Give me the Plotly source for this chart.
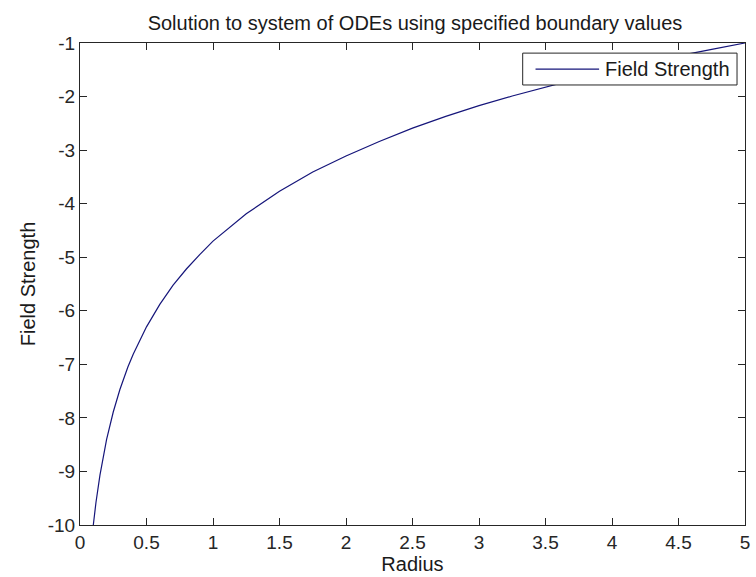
import plotly.graph_objects as go

radius = [0.1, 0.12, 0.15, 0.2, 0.25, 0.3, 0.36, 0.4, 0.5, 0.6, 0.7, 0.8, 0.9, 1.0,
          1.25, 1.5, 1.75, 2.0, 2.25, 2.5, 2.75, 3.0, 3.25, 3.5, 3.75, 4.0, 4.25, 4.5, 4.75, 5.0]
field = [-10.0, -9.58, -9.07, -8.40, -7.89, -7.47, -7.05, -6.81, -6.30, -5.88, -5.52, -5.22,
         -4.95, -4.70, -4.19, -3.77, -3.41, -3.11, -2.84, -2.59, -2.37, -2.17, -1.99, -1.82,
         -1.66, -1.51, -1.37, -1.24, -1.12, -1.00]

x_ticks = [0, 0.5, 1, 1.5, 2, 2.5, 3, 3.5, 4, 4.5, 5]
x_labels = ["0", "0.5", "1", "1.5", "2", "2.5", "3", "3.5", "4", "4.5", "5"]
y_ticks = [-10, -9, -8, -7, -6, -5, -4, -3, -2, -1]
y_labels = ["-10", "-9", "-8", "-7", "-6", "-5", "-4", "-3", "-2", "-1"]

series_name = "Field Strength"
line_color = "#15157a"
font = "Liberation Sans, Arial, sans-serif"
fs = 20
tfs = 19

fig = go.Figure()
fig.add_trace(go.Scatter(x=radius, y=field, mode="lines", name=series_name,
                         line=dict(color=line_color, width=1.2), showlegend=False))

axis_common = dict(showline=True, linecolor="#262626", linewidth=1, mirror="ticks",
                   ticks="inside", ticklen=7, tickcolor="#262626", tickwidth=1,
                   showgrid=False, zeroline=False,
                   tickfont=dict(family=font, size=tfs, color="#262626"))

# MATLAB-style legend box (plot-area paper coordinates)
lx0, lx1, ly0, ly1 = 0.6657, 0.988, 0.9129, 0.979
ly_mid = (ly0 + ly1) / 2
fig.add_shape(type="rect", xref="paper", yref="paper", x0=lx0, x1=lx1, y0=ly0, y1=ly1,
              line=dict(color="#262626", width=1), fillcolor="white", layer="above")
fig.add_shape(type="line", xref="paper", yref="paper", x0=0.685, x1=0.7806,
              y0=ly_mid, y1=ly_mid, line=dict(color=line_color, width=1.2), layer="above")
fig.add_annotation(xref="paper", yref="paper", x=0.7866, y=ly_mid,
                   xanchor="left", yanchor="middle", showarrow=False, text=series_name,
                   font=dict(family=font, size=fs, color="#1a1a1a"))

fig.update_layout(
    width=756, height=577,
    paper_bgcolor="white", plot_bgcolor="white",
    margin=dict(l=80, r=6, t=43, b=52),
    title=dict(text="Solution to system of ODEs using specified boundary values",
               x=(80 + 750) / 2 / 756, xanchor="center", y=1 - 23 / 577, yanchor="middle",
               font=dict(family=font, size=fs, color="#1a1a1a")),
    xaxis=dict(range=[0, 5], tickvals=x_ticks, ticktext=x_labels,
               title=dict(text="Radius", font=dict(family=font, size=fs, color="#1a1a1a"),
                          standoff=2),
               **axis_common),
    yaxis=dict(range=[-10, -1], tickvals=y_ticks, ticktext=y_labels,
               title=dict(text="Field Strength", font=dict(family=font, size=fs, color="#1a1a1a"),
                          standoff=6),
               **axis_common),
    showlegend=False,
)

fig.write_html("out.html")
